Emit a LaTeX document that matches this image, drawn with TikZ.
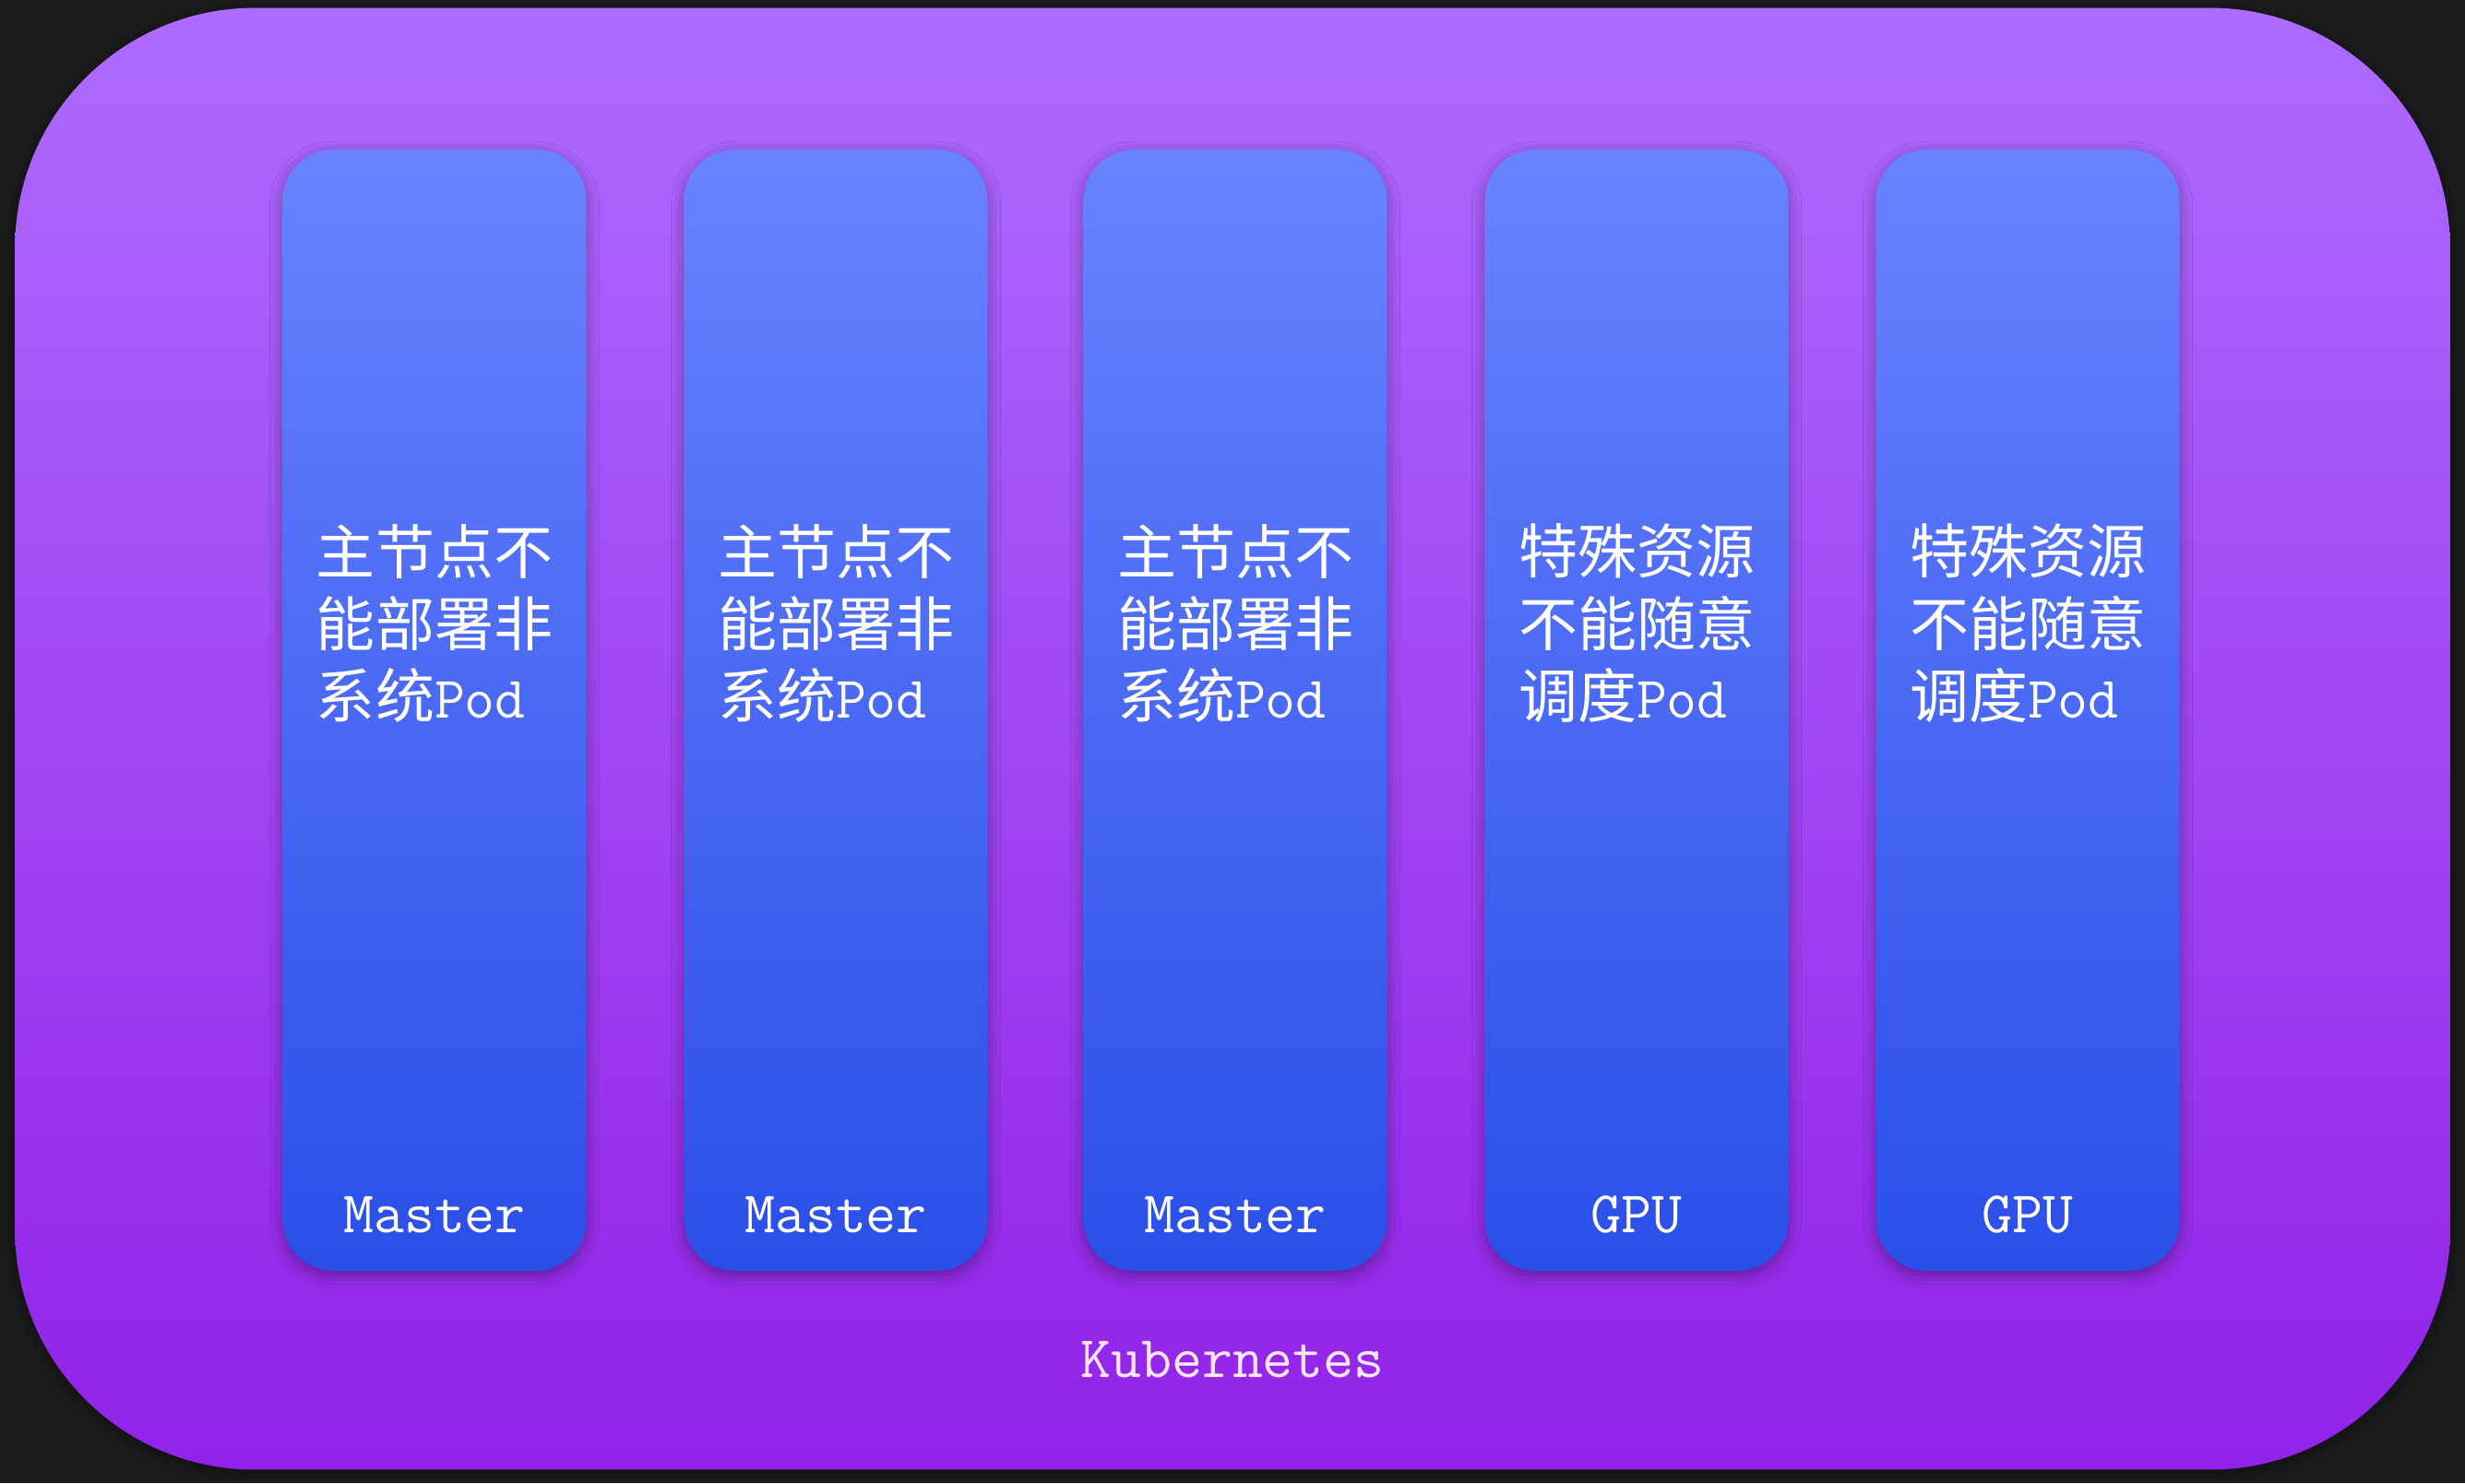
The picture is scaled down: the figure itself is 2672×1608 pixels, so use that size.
\documentclass[tikz,border=0pt]{standalone}
\usepackage{fontspec}
\setmonofont{Latin Modern Mono}
\newfontfamily\cjk{Noto Sans CJK SC}
\usetikzlibrary{shadows.blur}
\definecolor{bgdark}{HTML}{1B1B1D}
\definecolor{clustertop}{HTML}{AE6BFF}
\definecolor{clusterbot}{HTML}{9222E8}
\definecolor{nodetop}{HTML}{6983FF}
\definecolor{nodebot}{HTML}{2A4FE8}
\definecolor{k8stext}{HTML}{FFE6FF}
\begin{document}
\begin{tikzpicture}
[x=0.01cm,y=-0.01cm,
  clusterdecorate/.style={shape=rectangle,rounded corners=2.6cm,minimum width=26.38cm,minimum height=15.84cm,top color=clustertop,bottom color=clusterbot,blur shadow={shadow xshift=0pt,shadow yshift=-0.04cm,shadow opacity=40,shadow blur radius=0.12cm}},%
  nodedecorate/.style={shape=rectangle,rounded corners=0.55cm,minimum width=3.29cm,minimum height=12.15cm,top color=nodetop,bottom color=nodebot,blur shadow={shadow xshift=0pt,shadow yshift=-0.05cm,shadow opacity=35,shadow blur radius=0.14cm}},%
  notedecorate/.style={text=white,align=left,inner sep=0pt,font=\cjk\fontsize{18.2pt}{22.3pt}\selectfont},%
  labeldecorate/.style={text=white,inner sep=0pt,font=\ttfamily\fontsize{18.2pt}{22pt}\selectfont}]
% background
\fill[bgdark] (0,0) rectangle (2672,1608);
\useasboundingbox (0,0) rectangle (2672,1608);
% cluster
\node (cluster) at (1336,801) [clusterdecorate] {};
\node (k8s) at (1336,1474) [labeldecorate,text=k8stext] {Kubernetes};
% nodes
\node (m1) at (471,770) [nodedecorate] {};
\node (m2) at (906,770) [nodedecorate] {};
\node (m3) at (1339,770) [nodedecorate] {};
\node (g1) at (1774,770) [nodedecorate] {};
\node (g2) at (2198,770) [nodedecorate] {};
% notes
\node (m1note) at (471,676) [notedecorate] {主节点不\\能部署非\\系统{\ttfamily Pod}};
\node (m2note) at (906,676) [notedecorate] {主节点不\\能部署非\\系统{\ttfamily Pod}};
\node (m3note) at (1339,676) [notedecorate] {主节点不\\能部署非\\系统{\ttfamily Pod}};
\node (g1note) at (1774,676) [notedecorate] {特殊资源\\不能随意\\调度{\ttfamily Pod}};
\node (g2note) at (2198,676) [notedecorate] {特殊资源\\不能随意\\调度{\ttfamily Pod}};
% labels
\node (m1label) at (471,1317) [labeldecorate] {Master};
\node (m2label) at (906,1317) [labeldecorate] {Master};
\node (m3label) at (1339,1317) [labeldecorate] {Master};
\node (g1label) at (1774,1317) [labeldecorate] {GPU};
\node (g2label) at (2198,1317) [labeldecorate] {GPU};
\end{tikzpicture}
\end{document}
